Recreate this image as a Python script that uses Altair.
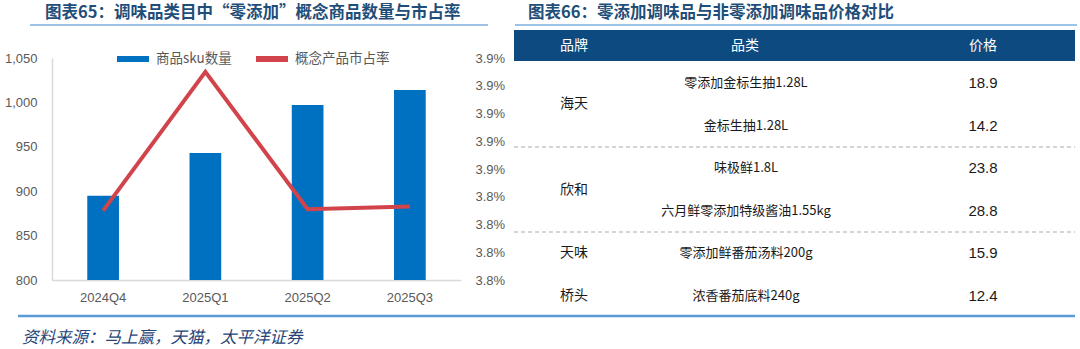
import altair as alt
import pandas as pd

# ---------------- data ----------------
quarters = ["2024Q4", "2025Q1", "2025Q2", "2025Q3"]
sku_counts = [895, 943, 997, 1014]
share_values = [0.03830, 0.03930, 0.03831, 0.03833]

left_ticks = [800, 850, 900, 950, 1000, 1050]
right_ticks = [0.0378, 0.0380, 0.0382, 0.0384, 0.0386, 0.0388, 0.0390, 0.0392, 0.0394]

series_names = ["商品sku数量", "概念产品市占率"]

table_headers = ["品牌", "品类", "价格"]
brands = ["海天", "海天", "欣和", "欣和", "天味", "桥头"]
products = ["零添加金标生抽1.28L", "金标生抽1.28L", "味极鲜1.8L",
            "六月鲜零添加特级酱油1.55kg", "零添加鲜番茄汤料200g", "浓香番茄底料240g"]
prices = [18.9, 14.2, 23.8, 28.8, 15.9, 12.4]

title_left = "图表65：调味品类目中“零添加”概念商品数量与市占率"
title_right = "图表66：零添加调味品与非零添加调味品价格对比"
source_note = "资料来源：马上赢，天猫，太平洋证券"

# ---------------- tables ----------------
bar_df = pd.DataFrame({"quarter": quarters, "sku": sku_counts,
                       "series": [series_names[0]] * len(quarters)})
line_df = pd.DataFrame({"quarter": quarters, "share": share_values,
                        "series": [series_names[1]] * len(quarters)})

rows = pd.DataFrame({"brand": brands, "product": products, "price": prices,
                     "row": list(range(len(products)))})
brand_df = rows.groupby("brand", sort=False)["row"].agg(["mean", "count", "max"]).reset_index()
sep_df = pd.DataFrame({"pos": [m + 0.5 for m, c in zip(brand_df["max"], brand_df["count"]) if c > 1]})
one = pd.DataFrame({"k": [0]})

FONT_CJK = "Noto Sans CJK SC"
FONT_NUM = "Liberation Sans"
GREY = "#595959"
BLUE = "#0070C0"
RED = "#D2444C"
TITLE_C = "#1F4E79"

color_enc = alt.Color(
    "series:N",
    scale=alt.Scale(domain=series_names, range=[BLUE, RED]),
    legend=alt.Legend(
        title=None, orient="none", direction="horizontal", legendX=114, legendY=40,
        symbolType="stroke", symbolSize=1024, symbolStrokeWidth=6,
        labelFont=FONT_CJK, labelFontSize=13.5, labelColor=GREY, labelOffset=4,
        columnPadding=12, padding=0,
    ),
)

# ---------------- left chart: bars + line ----------------
bar_x = alt.X("quarter:N", sort=quarters,
              scale=alt.Scale(type="band", range=[52, 461], paddingInner=0.69, paddingOuter=0.345),
              axis=alt.Axis(orient="bottom", offset=-69, title=None, labelAngle=0,
                            labelFont=FONT_NUM, labelFontSize=13, labelColor=GREY,
                            labelPadding=11, ticks=False, domainColor="#D9D9D9",
                            domainWidth=1.5, grid=False))

bars = alt.Chart(bar_df).mark_bar().encode(
    x=bar_x,
    y=alt.Y("sku:Q",
            scale=alt.Scale(domain=[800, 1050], range=[280, 58], nice=False, zero=False),
            axis=alt.Axis(orient="left", offset=-52, title=None, values=left_ticks, format=",.0f",
                          labelFont=FONT_NUM, labelFontSize=13, labelColor=GREY,
                          labelPadding=15, ticks=False, domainColor="#D9D9D9",
                          domainWidth=1.5, grid=False)),
    y2=alt.datum(800),
    color=color_enc,
)

line = alt.Chart(line_df).mark_line(strokeWidth=4, strokeJoin="miter").encode(
    x=alt.X("quarter:N", sort=quarters,
            scale=alt.Scale(type="point", range=[52, 461], padding=0.5), axis=None),
    y=alt.Y("share:Q",
            scale=alt.Scale(domain=[0.0378, 0.0394], range=[280, 58], nice=False, zero=False),
            axis=alt.Axis(orient="right", offset=-619, title=None, values=right_ticks,
                          format=".1%", labelFont=FONT_NUM, labelFontSize=13,
                          labelColor=GREY, labelPadding=14, ticks=False, domain=False,
                          grid=False)),
    color=alt.Color("series:N"),
)

# ---------------- right: table ----------------
row_scale = alt.Scale(domain=[0, len(products) - 1], range=[83, 296], nice=False, zero=False)

header_bar = alt.Chart(one).mark_rect(color="#0C4A80").encode(
    x=alt.value(514), x2=alt.value(1075), y=alt.value(30), y2=alt.value(61))

hdr_style = dict(font=FONT_CJK, fontSize=14, color="white", baseline="middle")
hdr1 = alt.Chart(pd.DataFrame({"t": [table_headers[0]]})).mark_text(align="left", **hdr_style).encode(
    text="t:N", x=alt.value(560), y=alt.value(46))
hdr2 = alt.Chart(pd.DataFrame({"t": [table_headers[1]]})).mark_text(align="center", **hdr_style).encode(
    text="t:N", x=alt.value(745), y=alt.value(46))
hdr3 = alt.Chart(pd.DataFrame({"t": [table_headers[2]]})).mark_text(align="center", **hdr_style).encode(
    text="t:N", x=alt.value(983), y=alt.value(46))

brand_txt = alt.Chart(brand_df).mark_text(align="left", baseline="middle", font=FONT_CJK,
                                          fontSize=14, color="#1A1A1A").encode(
    text="brand:N", x=alt.value(560),
    y=alt.Y("mean:Q", scale=row_scale, axis=None))

prod_txt = alt.Chart(rows).mark_text(align="center", baseline="middle", font=FONT_CJK,
                                     fontSize=13, color="#1A1A1A").encode(
    text="product:N", x=alt.value(746),
    y=alt.Y("row:Q", scale=row_scale, axis=None))

price_txt = alt.Chart(rows).mark_text(align="center", baseline="middle", font=FONT_NUM,
                                      fontSize=15, color="#1A1A1A").encode(
    text=alt.Text("price:Q", format=".1f"), x=alt.value(983),
    y=alt.Y("row:Q", scale=row_scale, axis=None))

seps = alt.Chart(sep_df).mark_rule(strokeDash=[4, 3], color="#C8C8C8", strokeWidth=1.5).encode(
    y=alt.Y("pos:Q", scale=row_scale, axis=None), x=alt.value(514), x2=alt.value(1075))

# ---------------- titles, rules, source ----------------
t_style = dict(font=FONT_CJK, fontSize=16.5, fontWeight="bold", color=TITLE_C,
               align="left", baseline="middle")
t_left = alt.Chart(pd.DataFrame({"t": [title_left]})).mark_text(**t_style).encode(
    text="t:N", x=alt.value(45), y=alt.value(13))
t_right = alt.Chart(pd.DataFrame({"t": [title_right]})).mark_text(**t_style).encode(
    text="t:N", x=alt.value(528), y=alt.value(13))

ul_left = alt.Chart(one).mark_rule(color="#9DC3E6", strokeWidth=2).encode(
    x=alt.value(30), x2=alt.value(488), y=alt.value(25))
ul_right = alt.Chart(one).mark_rule(color="#9DC3E6", strokeWidth=2).encode(
    x=alt.value(515), x2=alt.value(1077), y=alt.value(25))
bottom_rule = alt.Chart(one).mark_rule(color="#5B9BD5", strokeWidth=2.5).encode(
    x=alt.value(18), x2=alt.value(1075), y=alt.value(316))

src = alt.Chart(pd.DataFrame({"t": [source_note]})).mark_text(
    font=FONT_CJK, fontSize=16.5, fontStyle="italic", color="#264478",
    align="left", baseline="middle").encode(text="t:N", x=alt.value(22), y=alt.value(338))

chart = alt.layer(
    bars, line,
    header_bar, hdr1, hdr2, hdr3, seps, brand_txt, prod_txt, price_txt,
    t_left, t_right, ul_left, ul_right, bottom_rule, src,
).resolve_scale(x="independent", y="independent").properties(
    width=1080, height=349, padding=0,
    autosize=alt.AutoSizeParams(type="none"),
    background="white",
).configure_view(stroke=None)

chart.save("out.html", embed_options={"renderer": "svg", "actions": False})
